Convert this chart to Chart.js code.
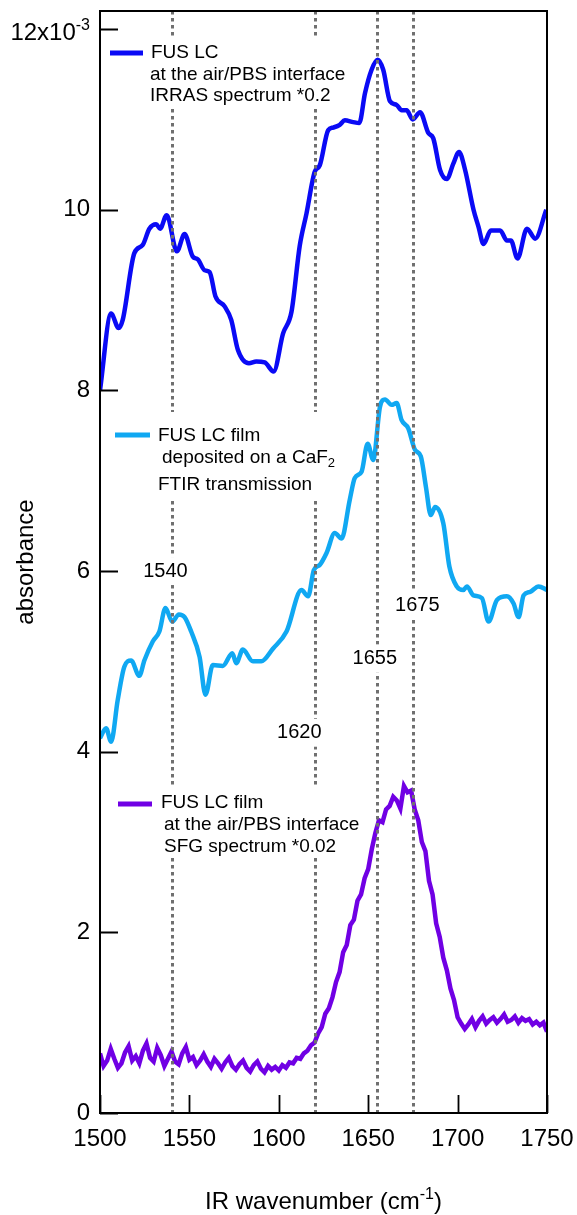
<!DOCTYPE html>
<html>
<head>
<meta charset="utf-8">
<script src="https://cdn.jsdelivr.net/npm/chart.js@4.4.1/dist/chart.umd.min.js"></script>
<style>
  html, body { margin: 0; background: #fff; }
  canvas { display: block; }
</style>
</head>
<body>
<canvas id="spectra" width="577" height="1215"></canvas>
<script>
// axis ticks
const xTicks = [1500, 1550, 1600, 1650, 1700, 1750];
const yTicks = [0, 2, 4, 6, 8, 10, 12];

// vertical reference positions (cm-1)
const markerLines = [1540, 1620, 1655, 1675];

// IRRAS spectrum at the air/PBS interface (x0.2)
const irrasX = [1500, 1506.2, 1510.4, 1512.7, 1519.2, 1523.9, 1527.6, 1531.4, 1533.6, 1537.3,
  1543.0, 1547.3, 1551.9, 1554.7, 1558.5, 1561.3, 1564.6, 1569.7, 1573.4, 1577.1,
  1583.3, 1587.4, 1592.1, 1597.1, 1602.4, 1607.1, 1611.7, 1615.5, 1620.1, 1622.9,
  1627.6, 1630.4, 1634.1, 1636.9, 1641.6, 1645.0, 1648.2, 1651.9, 1655.3, 1658.4,
  1662.2, 1665.9, 1668.7, 1671.5, 1674.9, 1679.0, 1683.6, 1686.4, 1690.2, 1694.0,
  1697.6, 1700.8, 1704.2, 1708.9, 1711.7, 1714.5, 1718.6, 1723.8, 1727.6, 1729.8,
  1733.5, 1738.8, 1743.4, 1749.6];
const irrasY = [8.0, 8.85, 8.69, 8.78, 9.52, 9.61, 9.79, 9.84, 9.79, 9.94,
  9.54, 9.73, 9.48, 9.45, 9.33, 9.31, 9.04, 8.93, 8.78, 8.45,
  8.30, 8.32, 8.31, 8.21, 8.63, 8.87, 9.6, 9.96, 10.42, 10.49,
  10.88, 10.91, 10.94, 10.99, 10.97, 10.96, 11.29, 11.55, 11.66, 11.55,
  11.20, 11.16, 11.10, 11.10, 11.0, 11.08, 10.85, 10.79, 10.44, 10.34,
  10.51, 10.64, 10.44, 10.0, 9.81, 9.62, 9.77, 9.77, 9.66, 9.66,
  9.46, 9.79, 9.68, 10.0];

// FTIR transmission of the film on CaF2
const ftirX = [1500, 1503.4, 1506.2, 1509.9, 1513.6, 1517.4, 1522.0, 1524.8, 1529.5, 1533.2,
  1536.6, 1540.4, 1544.1, 1547.3, 1551.0, 1555.7, 1559.0, 1563.1, 1568.7, 1574.0,
  1576.2, 1579.9, 1585.5, 1590.2, 1596.7, 1604.3, 1612.7, 1616.4, 1619.6, 1623.0,
  1626.7, 1631.3, 1635.1, 1639.7, 1642.5, 1646.3, 1649.7, 1652.8, 1656.6, 1659.4,
  1663.1, 1665.9, 1668.7, 1672.4, 1676.2, 1679.4, 1682.3, 1685.0, 1687.4, 1692.0,
  1695.4, 1699.5, 1703.2, 1705.2, 1708.9, 1713.6, 1717.3, 1722.0, 1727.6, 1731.3,
  1734.1, 1736.9, 1740.6, 1745.3, 1750];
const ftirY = [4.15, 4.26, 4.11, 4.57, 4.94, 5.01, 4.84, 5.01, 5.22, 5.33,
  5.59, 5.44, 5.52, 5.49, 5.33, 5.05, 4.63, 4.96, 4.95, 5.09,
  4.98, 5.13, 5.0, 5.0, 5.14, 5.33, 5.79, 5.72, 6.01, 6.07,
  6.20, 6.42, 6.36, 6.79, 7.03, 7.10, 7.41, 7.23, 7.82, 7.90,
  7.84, 7.86, 7.67, 7.58, 7.34, 7.27, 6.93, 6.62, 6.71, 6.53,
  6.05, 5.83, 5.79, 5.83, 5.73, 5.70, 5.44, 5.68, 5.72, 5.64,
  5.49, 5.73, 5.77, 5.83, 5.79];

// SFG spectrum (x0.02), sampled every 2 cm-1 from 1500
const sfgStart = 1500;
const sfgStep = 2;
const sfgY = [
  0.66, 0.52, 0.58, 0.71, 0.60, 0.50, 0.55, 0.67, 0.74, 0.58,
  0.63, 0.55, 0.69, 0.77, 0.61, 0.57, 0.72, 0.64, 0.52, 0.60,
  0.68, 0.57, 0.54, 0.66, 0.73, 0.59, 0.62, 0.53, 0.58, 0.65,
  0.57, 0.51, 0.60, 0.55, 0.49, 0.56, 0.61, 0.52, 0.48, 0.54,
  0.58, 0.50, 0.46, 0.53, 0.57, 0.49, 0.45, 0.52, 0.48, 0.51,
  0.47, 0.53, 0.50, 0.56, 0.55, 0.61, 0.60, 0.66, 0.69, 0.75,
  0.78, 0.88, 0.95, 1.10, 1.16, 1.28, 1.45, 1.56, 1.78, 1.86,
  2.08, 2.14, 2.35, 2.42, 2.60, 2.70, 2.92, 3.10, 3.24, 3.22,
  3.36, 3.40, 3.50, 3.46, 3.37, 3.62, 3.55, 3.57, 3.36, 3.24,
  3.00, 2.90, 2.57, 2.42, 2.10, 1.95, 1.72, 1.58, 1.38, 1.25,
  1.06, 0.99, 0.93, 0.98, 1.04, 0.95, 1.02, 1.07, 0.99, 1.03,
  1.06, 1.00, 1.04, 1.09, 1.01, 1.03, 1.07, 1.00, 1.05, 1.02,
  1.04, 0.98, 1.01, 0.97, 1.00, 0.90];

const FONT = '"Liberation Sans", Arial, sans-serif';
const BLUE = '#0a0af5';
const SKY = '#10a8f2';
const VIOLET = '#7000e4';
const DOT_GREY = '#707070';

const toPoints = (xs, ys) => ys.map((v, i) => ({ x: xs[i], y: v }));
const sfgX = sfgY.map((_, i) => sfgStart + i * sfgStep);

// legend blocks: white box, line sample, text lines ([segments], x, y)
const legends = [
  { color: BLUE, box: [104, 36, 252, 72], sample: [110, 143, 53], lines: [
    [[['FUS LC']], 151, 53],
    [[['at the air/PBS interface']], 150, 75],
    [[['IRRAS spectrum *0.2']], 150, 96]] },
  { color: SKY, box: [108, 412, 238, 86], sample: [115, 150, 435], lines: [
    [[['FUS LC film']], 158, 436],
    [[['deposited on a CaF'], ['2', 'sub']], 162, 458],
    [[['FTIR transmission']], 158, 485]] },
  { color: VIOLET, box: [110, 788, 252, 70], sample: [118, 152, 804], lines: [
    [[['FUS LC film']], 161, 803],
    [[['at the air/PBS interface']], 164, 825],
    [[['SFG spectrum *0.02']], 164, 847]] }
];

// peak labels in data coordinates
const peakLabels = [
  ['1540', 1536.6, 6.0],
  ['1620', 1611.5, 4.21],
  ['1655', 1653.7, 5.03],
  ['1675', 1677.5, 5.62]
];

function drawRich(ctx, parts, x, y, size) {
  let cx = x;
  parts.forEach(([t, kind]) => {
    const s = kind ? Math.round(size * 0.68) : size;
    ctx.font = s + 'px ' + FONT;
    const dy = kind === 'sub' ? size * 0.3 : kind === 'sup' ? -size * 0.42 : 0;
    ctx.fillText(t, cx, y + dy);
    cx += ctx.measureText(t).width;
  });
  return cx - x;
}

function richWidth(ctx, parts, size) {
  let w = 0;
  parts.forEach(([t, kind]) => {
    const s = kind ? Math.round(size * 0.68) : size;
    ctx.font = s + 'px ' + FONT;
    w += ctx.measureText(t).width;
  });
  return w;
}

const overlay = {
  id: 'overlay',
  afterDatasetsDraw(chart) {
    const { ctx, chartArea: a, scales: { x, y } } = chart;
    ctx.save();

    // dotted reference lines on top of the spectra
    ctx.strokeStyle = DOT_GREY;
    ctx.lineWidth = 3;
    ctx.setLineDash([3.5, 3.5]);
    markerLines.forEach(v => {
      const px = Math.round(x.getPixelForValue(v)) + 0.5;
      ctx.beginPath();
      ctx.moveTo(px, a.top);
      ctx.lineTo(px, a.bottom);
      ctx.stroke();
    });
    ctx.setLineDash([]);

    // legends
    ctx.textBaseline = 'middle';
    ctx.textAlign = 'left';
    legends.forEach(lg => {
      ctx.fillStyle = '#fff';
      ctx.fillRect(...lg.box);
      ctx.strokeStyle = lg.color;
      ctx.lineWidth = 5;
      ctx.beginPath();
      ctx.moveTo(lg.sample[0], lg.sample[2]);
      ctx.lineTo(lg.sample[1], lg.sample[2]);
      ctx.stroke();
      ctx.fillStyle = '#000';
      lg.lines.forEach(([parts, lx, ly]) => drawRich(ctx, parts, lx, ly, 19));
    });

    // peak position labels
    ctx.font = '20px ' + FONT;
    ctx.textAlign = 'center';
    peakLabels.forEach(([t, xv, yv]) => {
      const px = x.getPixelForValue(xv);
      const py = y.getPixelForValue(yv);
      const w = ctx.measureText(t).width;
      ctx.fillStyle = '#fff';
      ctx.fillRect(px - w / 2 - 3, py - 14, w + 6, 28);
      ctx.fillStyle = '#000';
      ctx.fillText(t, px, py);
    });

    // inner ticks
    ctx.strokeStyle = '#000';
    ctx.lineWidth = 1.8;
    ctx.beginPath();
    xTicks.forEach(v => {
      const px = Math.round(x.getPixelForValue(v)) + 0.5;
      ctx.moveTo(px, a.bottom);
      ctx.lineTo(px, a.bottom - 18);
    });
    yTicks.forEach(v => {
      const py = Math.round(y.getPixelForValue(v)) + 0.5;
      ctx.moveTo(a.left, py);
      ctx.lineTo(a.left + 18, py);
    });
    ctx.stroke();

    // frame
    ctx.lineWidth = 2;
    ctx.strokeRect(a.left, a.top, a.right - a.left, a.bottom - a.top);

    // top y label with exponent
    ctx.fillStyle = '#000';
    ctx.textAlign = 'left';
    ctx.textBaseline = 'alphabetic';
    const topParts = [['12x10'], ['-3', 'sup']];
    const tw = richWidth(ctx, topParts, 24);
    drawRich(ctx, topParts, a.left - 10 - tw, y.getPixelForValue(12) + 11, 24);

    // axis titles
    const xt = [['IR wavenumber (cm'], ['-1', 'sup'], [')']];
    const xw = richWidth(ctx, xt, 24);
    drawRich(ctx, xt, (a.left + a.right) / 2 - xw / 2, 1209, 24);

    ctx.save();
    ctx.translate(33, (a.top + a.bottom) / 2);
    ctx.rotate(-Math.PI / 2);
    ctx.font = '24px ' + FONT;
    ctx.textAlign = 'center';
    ctx.fillText('absorbance', 0, 0);
    ctx.restore();

    ctx.restore();
  }
};

new Chart(document.getElementById('spectra').getContext('2d'), {
  type: 'line',
  data: {
    datasets: [
      { label: 'IRRAS', data: toPoints(irrasX, irrasY), borderColor: BLUE,
        borderWidth: 4.5, cubicInterpolationMode: 'monotone' },
      { label: 'FTIR', data: toPoints(ftirX, ftirY), borderColor: SKY,
        borderWidth: 4.5, cubicInterpolationMode: 'monotone' },
      { label: 'SFG', data: toPoints(sfgX, sfgY), borderColor: VIOLET,
        borderWidth: 4.5, tension: 0 }
    ]
  },
  options: {
    responsive: false,
    animation: false,
    devicePixelRatio: 1,
    elements: { point: { radius: 0 }, line: { fill: false } },
    layout: { padding: { top: 11, right: 30, left: 0, bottom: 0 } },
    plugins: { legend: { display: false }, tooltip: { enabled: false } },
    scales: {
      x: {
        type: 'linear',
        min: 1500,
        max: 1750,
        afterBuildTicks: s => { s.ticks = xTicks.map(v => ({ value: v })); },
        afterFit: s => {
          s.height = 102;
          s.paddingLeft = 0;
          s.paddingRight = 0;
        },
        grid: { display: false, drawTicks: false, tickLength: 0 },
        border: { display: false },
        ticks: {
          color: '#000',
          padding: 12,
          maxRotation: 0,
          autoSkip: false,
          font: { family: FONT, size: 24 },
          callback: v => String(v)
        }
      },
      y: {
        min: 0,
        max: 12.2,
        afterBuildTicks: s => { s.ticks = yTicks.map(v => ({ value: v })); },
        afterFit: s => {
          s.width = 100;
          s.paddingTop = 0;
          s.paddingBottom = 0;
        },
        grid: { display: false, drawTicks: false, tickLength: 0 },
        border: { display: false },
        ticks: {
          color: '#000',
          padding: 10,
          font: { family: FONT, size: 24 },
          callback: v => (v === 12 ? '' : String(v))
        }
      }
    }
  },
  plugins: [overlay]
});
</script>
</body>
</html>
